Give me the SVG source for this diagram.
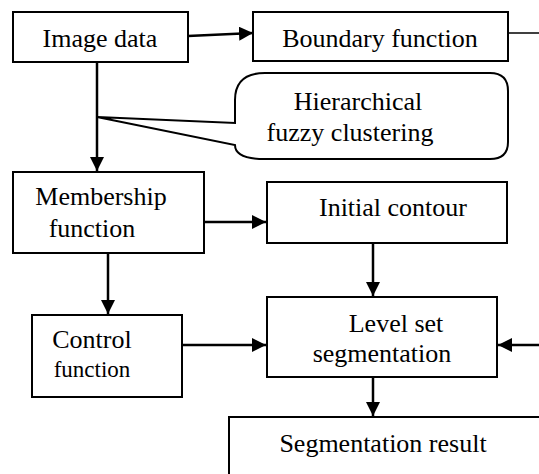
<svg xmlns="http://www.w3.org/2000/svg" width="539" height="474" viewBox="0 0 539 474">
<style>
.box{fill:#fff;stroke:#000;stroke-width:2}
.t{font-family:"Liberation Serif","Times New Roman",serif;font-size:26px;fill:#000}
.c{stroke:#000;stroke-width:2.5;fill:none}
.th{stroke:#000;stroke-width:1.5;fill:none}
</style>
<defs>
<marker id="ah" markerWidth="10" markerHeight="10" refX="9" refY="5" orient="auto" markerUnits="userSpaceOnUse" viewBox="0 0 10 10">
<path d="M0,0 L10,5 L0,10 Z" fill="#000"/>
</marker>
<marker id="a" viewBox="0 0 14 14" refX="14" refY="7" markerWidth="14" markerHeight="14" orient="auto" markerUnits="userSpaceOnUse">
<path d="M0,0 L14,7 L0,14 Z" fill="#000"/>
</marker>
</defs>
<g id="connectors">
<line class="c" x1="188" y1="36" x2="253" y2="33" marker-end="url(#a)"/>
<line class="th" x1="508" y1="33" x2="539" y2="33"/>
<line class="c" x1="97" y1="62" x2="97" y2="171" marker-end="url(#a)"/>
<line class="c" x1="204" y1="222" x2="266" y2="222" marker-end="url(#a)"/>
<line class="c" x1="373" y1="243" x2="373" y2="296" marker-end="url(#a)"/>
<line class="c" x1="108" y1="253" x2="108" y2="314" marker-end="url(#a)"/>
<line class="c" x1="182" y1="345" x2="266" y2="345" marker-end="url(#a)"/>
<line class="c" x1="539" y1="345" x2="498" y2="345" marker-end="url(#a)"/>
<line class="c" x1="373" y1="377" x2="373" y2="416" marker-end="url(#a)"/>
</g>
<g id="image-data">
<rect class="box" x="13" y="12" width="175" height="50"/>
<text class="t" x="100" y="47" text-anchor="middle">Image data</text>
</g>
<g id="boundary-function">
<rect class="box" x="253" y="12" width="255" height="49"/>
<text class="t" x="380" y="47" text-anchor="middle">Boundary function</text>
</g>
<g id="hierarchical-clustering">
<path class="box" d="M235,123 L235,100 Q235,73 265,73 L490,73 Q508,73 508,91 L508,142 Q508,159 490,159 L265,159 Q235,159 235,145 L97,117 Z"/>
<text class="t" x="358" y="110" text-anchor="middle">Hierarchical</text>
<text class="t" x="350" y="141" text-anchor="middle">fuzzy clustering</text>
</g>
<g id="membership-function">
<rect class="box" x="13" y="172" width="191" height="81"/>
<text class="t" x="101" y="205" text-anchor="middle">Membership</text>
<text class="t" x="92" y="237" text-anchor="middle">function</text>
</g>
<g id="initial-contour">
<rect class="box" x="267" y="182" width="240" height="61"/>
<text class="t" x="393" y="216" text-anchor="middle">Initial contour</text>
</g>
<g id="control-function">
<rect class="box" x="32" y="315" width="150" height="82"/>
<text class="t" x="92" y="348" text-anchor="middle">Control</text>
<text class="t" x="92" y="377" text-anchor="middle" style="font-size:23px">function</text>
</g>
<g id="level-set-segmentation">
<rect class="box" x="267" y="297" width="230" height="80"/>
<text class="t" x="396" y="332" text-anchor="middle">Level set</text>
<text class="t" x="382" y="362" text-anchor="middle">segmentation</text>
</g>
<g id="segmentation-result">
<rect class="box" x="229" y="417" width="320" height="70"/>
<text class="t" x="383" y="452" text-anchor="middle">Segmentation result</text>
</g>
</svg>
